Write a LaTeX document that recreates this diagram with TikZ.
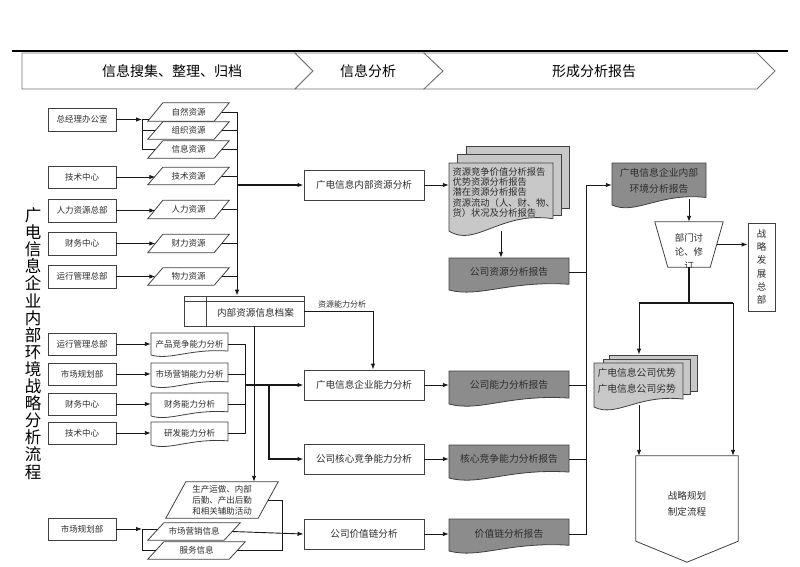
\documentclass[tikz,border=0pt]{standalone}
\usepackage{fontspec}
\setmainfont{Noto Sans CJK SC}
\usetikzlibrary{arrows.meta,calc}
\definecolor{lightfill}{RGB}{200,200,200}
\definecolor{darkfill}{RGB}{140,140,140}
\definecolor{edge}{RGB}{64,64,64}
\definecolor{txt}{RGB}{45,45,45}
\newcommand\fs[2]{\fontsize{#1}{#2}\selectfont}
\tikzset{
  boxnode/.style={draw=edge, line width=0.8pt, fill=white, minimum width=68pt, minimum height=22pt, inner sep=1pt, font=\fs{8.5}{10}, text=txt},
  anabox/.style={draw=edge, line width=0.9pt, fill=white, minimum width=120pt, minimum height=30pt, inner sep=1pt, font=\fs{9.6}{11}, text=txt},
  ptext/.style={inner sep=0pt, font=\fs{8.5}{10}, text=txt},
  shapeline/.style={draw=edge, line width=0.8pt},
  hdr/.style={draw=black!55, fill=white, line width=0.8pt},
  cline/.style={line width=0.9pt, draw=black!90},
  arr/.style={cline, -{Latex[length=6pt,width=4.5pt]}},
  thk/.style={line width=1.5pt},
  sheet/.style={draw=edge, line width=0.8pt, fill=lightfill, inner sep=0pt},
}
% parallelogram: name, cx, cy, mid width, height, half slant, options, text
\newcommand\Para[8]{%
  \node[ptext, minimum width=#4pt, minimum height=#5pt, align=center, #7] (#1) at (#2,#3) {#8};
  \draw[shapeline] ([xshift=-#6pt]#1.south west) -- ([xshift=-#6pt]#1.south east) -- ([xshift=#6pt]#1.north east) -- ([xshift=#6pt]#1.north west) -- cycle;
}
% document: name, fill, x1, y1, x2, y2(left bottom), node height, options, text
\newcommand\Doc[9]{%
  \filldraw[shapeline, fill=#2] (#3,#4) -- (#5,#4) -- (#5,{#6-0.18*(#6-#4)}) .. controls ({#3+0.5*(#5-#3)},{#6-0.3*(#6-#4)}) and ({#3+0.25*(#5-#3)},{#6+0.25*(#6-#4)}) .. (#3,#6) -- cycle;
  \node[inner sep=0pt, minimum width={(#5-#3)*1pt}, minimum height={#7*1pt}, text=txt, #8] (#1) at ({(#3+#5)/2},{#4+#7/2}) {#9};
}
\begin{document}
\begin{tikzpicture}[x=1pt, y=-1pt]
\useasboundingbox (0,0) rectangle (800,566);

% ---------- header ----------
\draw[line width=1.2pt] (12,51) -- (788,51);
\filldraw[hdr] (22,53) -- (295,53) -- (313,71) -- (295,89) -- (22,89) -- cycle;
\filldraw[hdr] (295,53) -- (424,53) -- (443,71) -- (424,89) -- (295,89) -- (313,71) -- cycle;
\filldraw[hdr] (424,53) -- (757,53) -- (775,71) -- (757,89) -- (424,89) -- (443,71) -- cycle;
\node[font=\fs{14}{16}] (h1) at (172,71) {信息搜集、整理、归档};
\node[font=\fs{14}{16}] (h2) at (368,71) {信息分析};
\node[font=\fs{14}{16}] (h3) at (594,71) {形成分析报告};

% ---------- vertical title ----------
\node[font=\fs{16.5}{17.1}, align=center, inner sep=0pt] (title) at (33,343.5)
  {广\\电\\信\\息\\企\\业\\内\\部\\环\\境\\战\\略\\分\\析\\流\\程};

% ---------- group 1 ----------
\node[boxnode, minimum height=23pt] (b1) at (82,119.5) {总经理办公室};
\node[boxnode] (b2) at (82,177) {技术中心};
\node[boxnode, minimum height=23pt] (b3) at (82,210.5) {人力资源总部};
\node[boxnode, minimum height=23pt] (b4) at (82,243.5) {财务中心};
\node[boxnode, minimum height=23pt] (b5) at (82,276.5) {运行管理总部};

\Para{p1}{188.5}{112}{66}{18}{7.5}{}{自然资源}
\Para{p2}{188.5}{130.5}{66}{17}{7.5}{}{组织资源}
\Para{p3}{188.5}{149.5}{66}{17}{7.5}{}{信息资源}
\Para{p4}{188.5}{176}{66}{17}{7.5}{}{技术资源}
\Para{p5}{188.5}{209.5}{66}{18}{7.5}{}{人力资源}
\Para{p6}{188.5}{243.5}{66}{18}{7.5}{}{财力资源}
\Para{p7}{188.5}{276.5}{66}{17}{7.5}{}{物力资源}

\coordinate (c1) at (142,119.5);
\coordinate (cA) at (237,0);
\coordinate (cC) at (254,0);
\coordinate (cD) at (373,0);
\coordinate (cI) at (245,0);
\coordinate (cJ) at (269,0);
\coordinate (cB) at (282,0);
\coordinate (c10) at (142,529);

\draw[arr] (b1.east) -- (c1);
\draw[cline] (c1) -- ([xshift=-6pt]c1 -| p1.west);
\draw[cline] (c1 |- p2.west) -- (p2.west);
\draw[cline] (c1) |- (p3.west);
\draw[arr] (b2.east) -- (b2.east -| p4.west);
\draw[arr] (b3.east) -- (b3.east -| p5.west);
\draw[arr] (b4.east) -- (b4.east -| p6.west);
\draw[arr] (b5.east) -- (b5.east -| p7.west);

% archive
\node[draw=edge, line width=0.8pt, fill=white, minimum width=120pt, minimum height=30pt, inner sep=0pt] (arc) at (244,311) {};
\draw[shapeline] ([yshift=-6pt]arc.north west) -- ([yshift=-6pt]arc.north east);
\draw[shapeline] ([xshift=23pt]arc.north west) -- ([xshift=23pt]arc.south west);
\node[ptext, font=\fs{9.6}{11}] (arct) at (255.5,313) {内部资源信息档案};

\draw[arr] (p1.east) -| (cA |- arc.north);
\foreach \p in {p2,p3,p4,p5,p6,p7} { \draw[cline] (\p.east) -- (\p.east -| cA); }

% analysis boxes
\node[anabox] (nb) at (364,185) {广电信息内部资源分析};
\node[anabox] (qn) at (364,385) {广电信息企业能力分析};
\node[anabox] (hx) at (364,459) {公司核心竞争能力分析};
\node[anabox] (jz) at (364,534) {公司价值链分析};

\draw[arr, thk] (cA |- nb.west) -- (nb.west);
\node[ptext, font=\fs{8}{9}] (lab) at (342,304.5) {资源能力分析};
\draw[arr] (arc.east) -| (cD |- qn.north);

% ---------- group 2 ----------
\node[boxnode] (b6) at (82,344) {运行管理总部};
\node[boxnode] (b7) at (82,374) {市场规划部};
\node[boxnode] (b8) at (82,404) {财务中心};
\node[boxnode] (b9) at (82,433) {技术中心};

\Doc{d1}{white}{151}{333}{228}{355}{22}{font=\fs{8.5}{10}}{产品竞争能力分析}
\Doc{d2}{white}{151}{363}{228}{386}{22}{font=\fs{8.5}{10}}{市场营销能力分析}
\Doc{d3}{white}{151}{393}{228}{416}{22}{font=\fs{8.5}{10}}{财务能力分析}
\Doc{d4}{white}{151}{422}{228}{445}{22}{font=\fs{8.5}{10}}{研发能力分析}

\draw[arr] (b6.east) -- (d1.west);
\draw[arr] (b7.east) -- (d2.west);
\draw[arr] (b8.east) -- (d3.west);
\draw[arr] (b9.east) -- (d4.west);
\draw[cline] (d1.east) -| (cI |- d4.east) -- (d4.east);
\draw[cline] (d2.east) -- (d2.east -| cI);
\draw[cline] (d3.east) -- (d3.east -| cI);
\draw[arr, thk] (cI |- qn.west) -- (qn.west);
\draw[arr, thk] (cJ |- qn.west) |- (hx.west);

% ---------- group 3 ----------
\node[boxnode] (b10) at (82,529) {市场规划部};
\Para{sc}{222}{500}{92}{36}{10}{font=\fs{8.5}{11}}{生产运做、内部\\后勤、产出后勤\\和相关辅助活动}
\Para{mi}{194}{531.5}{76}{17}{8}{}{市场营销信息}
\Para{fw}{196.5}{550.5}{81}{17}{8}{}{服务信息}

\draw[arr] (arc.south -| cC) -- (cC |- sc.north);
\draw[arr] (b10.east) -- (c10);
\draw[cline] (c10) -- ([xshift=2pt]c10 -| mi.west);
\draw[cline] (c10) |- (fw.west);
\draw[cline] (sc.east) -| (cB |- fw.east) -- (fw.east);
\draw[arr] (mi.east) -- (jz.west);

% ---------- reports ----------
\node[sheet, minimum width=103pt, minimum height=62pt] (s3) at (517.5,177) {};
\node[sheet, minimum width=104pt, minimum height=61pt] (s2) at (509,184.5) {};
\Doc{stk}{lightfill}{449}{163}{553}{231}{59}{text width=97pt, align=left, font=\fs{9.3}{10.4}}{资源竞争价值分析报告\\优势资源分析报告\\潜在资源分析报告\\资源流动（人、财、物、\\货）状况及分析报告}

\Doc{R1}{darkfill}{449}{258}{569}{290}{28}{font=\fs{9.8}{11}}{公司资源分析报告}
\Doc{R2}{darkfill}{449}{371}{569}{404}{28}{font=\fs{9.8}{11}}{公司能力分析报告}
\Doc{R3}{darkfill}{449}{445}{569}{478}{28}{font=\fs{9.8}{11}}{核心竞争能力分析报告}
\Doc{R4}{darkfill}{449}{519}{569}{551}{30}{font=\fs{9.8}{11}}{价值链分析报告}

\draw[arr] (nb.east) -- (nb.east -| stk.west);
\draw[arr] ([yshift=-9pt]stk.south) -- (stk.south |- R1.north);
\draw[arr] (qn.east) -- (R2.west);
\draw[arr] (hx.east) -- (R3.west);
\draw[arr] (jz.east) -- (R4.west);

% ---------- right part ----------
\coordinate (cE) at (586,185);
\Doc{E}{darkfill}{612}{163}{706}{205}{36}{align=center, font=\fs{9.8}{16}}{广电信息企业内部\\环境分析报告}
\draw[arr] (cE) -- (cE -| E.west);
\draw[cline] (cE) |- (R4.east);
\draw[cline] (R1.east) -- (R1.east -| cE);
\draw[cline] (R2.east) -- (R2.east -| cE);
\draw[cline] (R3.east) -- (R3.east -| cE);

% trapezium
\node[inner sep=0pt, minimum width=55pt, minimum height=45pt] (T) at (689,244.5) {};
\draw[shapeline, fill=white] ([xshift=-6.5pt]T.north west) -- ([xshift=6.5pt]T.north east) -- ([xshift=-6.5pt]T.south east) -- ([xshift=6.5pt]T.south west) -- cycle;
\begin{scope}
  \clip ([xshift=-6.5pt]T.north west) -- ([xshift=6.5pt]T.north east) -- ([xshift=-6.5pt]T.south east) -- ([xshift=6.5pt]T.south west) -- cycle;
  \node[align=center, font=\fs{9.4}{14}, text=txt, inner sep=0pt] (Tt) at (689,251.5) {部门讨\\论、修\\订};
\end{scope}
\draw[arr] (E.south -| T.north) -- (T.north);

\node[draw=edge, line width=0.8pt, minimum width=27pt, minimum height=88pt, inner sep=0pt, align=center, font=\fs{9.5}{13.3}, text=txt] (S) at (761.5,267) {战\\略\\发\\展\\总\\部};
\draw[arr] (T.east) -- (T.east -| S.west);

\coordinate (cF) at (689,303);
\coordinate (cG) at (639,303);
\coordinate (cH) at (733,303);
\draw[cline, thk] (T.south) -- (cF);
\draw[cline, thk] (cG) -- (cH);

\node[sheet, minimum width=88pt, minimum height=36pt] (w3) at (653,373) {};
\node[sheet, minimum width=87pt, minimum height=35pt] (w2) at (646.5,376.5) {};
\Doc{W}{lightfill}{594}{363}{683}{407}{36}{text width=82pt, align=left, font=\fs{9.8}{15.7}}{广电信息公司优势\\广电信息公司劣势}

\node[inner sep=0pt, minimum width=102pt, minimum height=96pt, align=center, font=\fs{9.6}{16}, text=txt] (P) at (687,504) {战略规划\\制定流程};
\draw[shapeline] (P.north west) -- (P.north east) -- ([yshift=11pt]P.south east) -- ([yshift=-10pt]P.south) -- ([yshift=11pt]P.south west) -- cycle;

\draw[arr] (cG) -- (cG |- w3.north);
\draw[arr] ([yshift=-6pt]cG |- W.south) -- (cG |- P.north);
\draw[arr] (cH) -- (cH |- P.north);
\end{tikzpicture}
\end{document}
